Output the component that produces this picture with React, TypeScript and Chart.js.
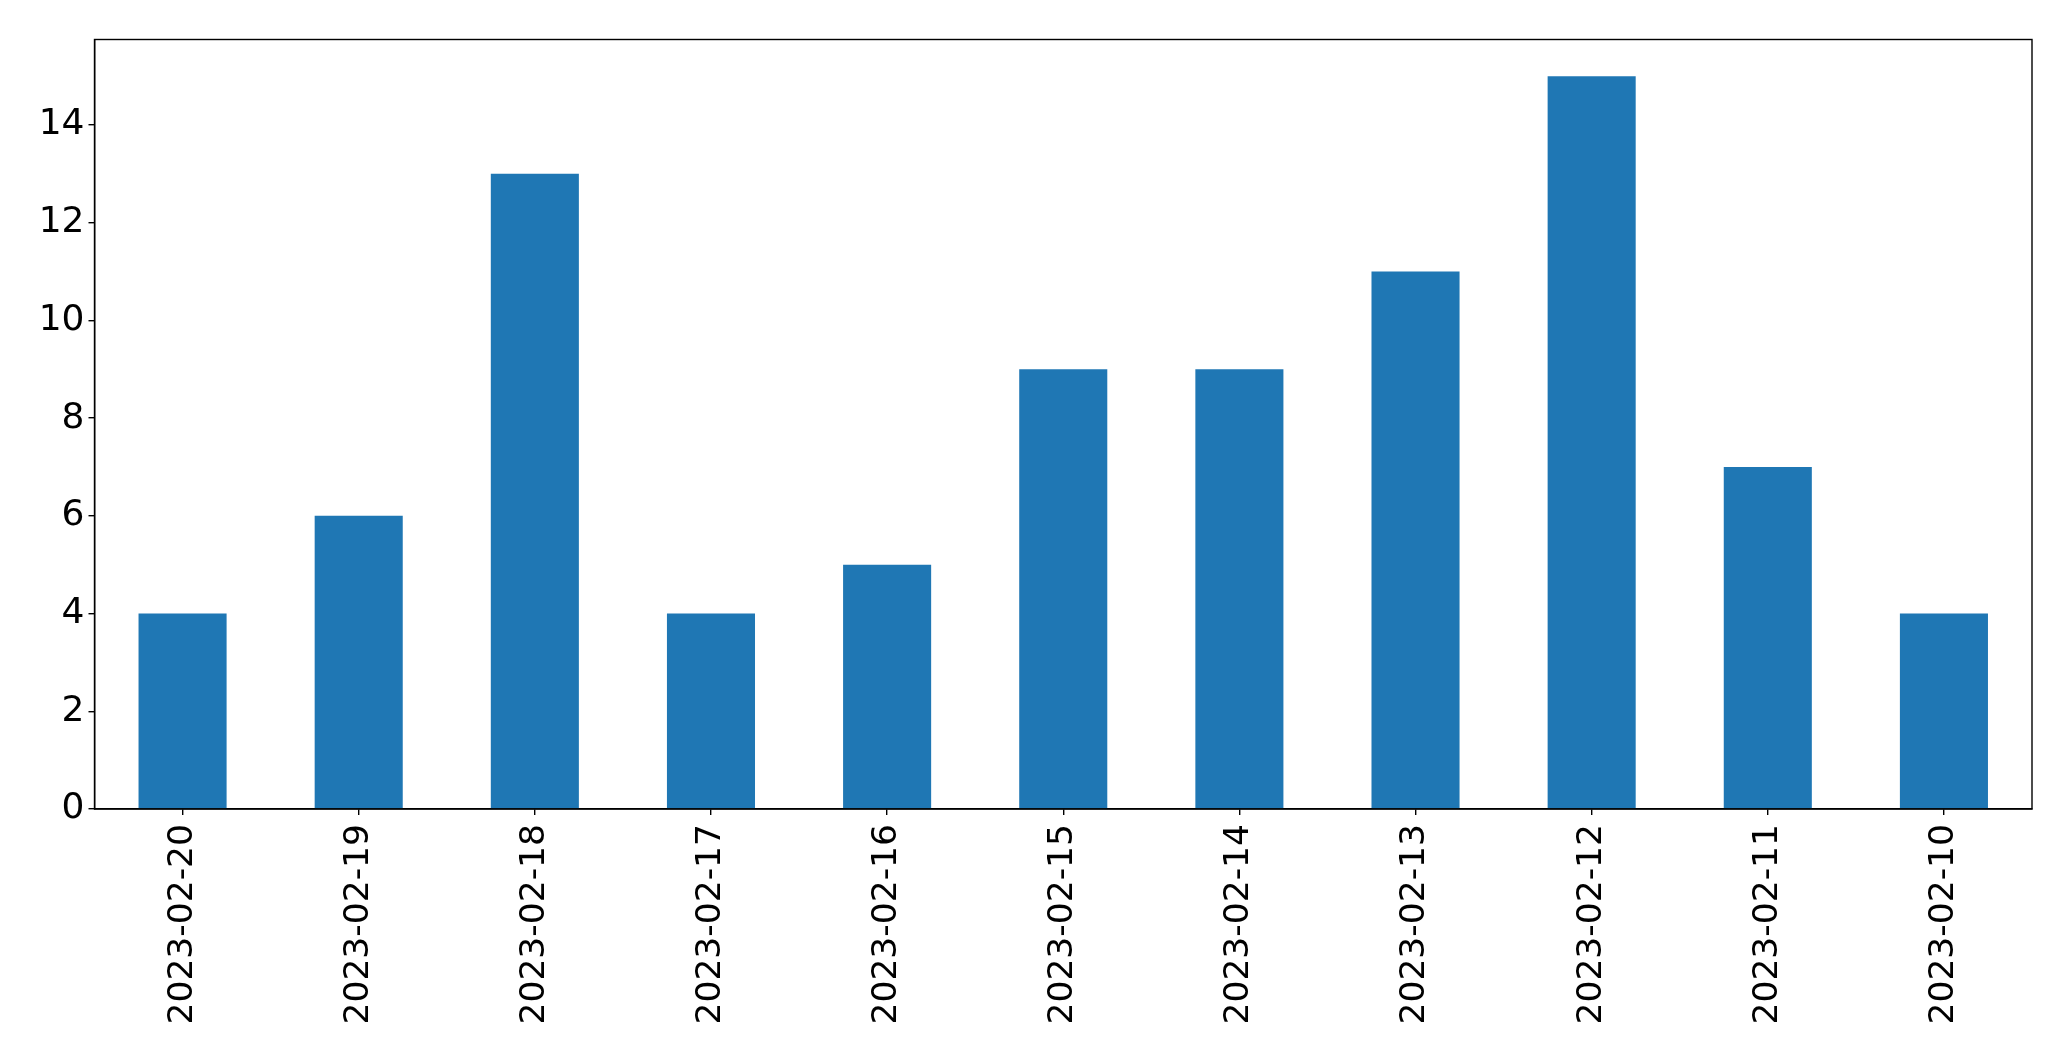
import React, { useEffect, useRef } from "react";
import { Chart, registerables } from "chart.js";

Chart.register(...registerables);

const categories: string[] = [
  "2023-02-20",
  "2023-02-19",
  "2023-02-18",
  "2023-02-17",
  "2023-02-16",
  "2023-02-15",
  "2023-02-14",
  "2023-02-13",
  "2023-02-12",
  "2023-02-11",
  "2023-02-10",
];
const counts: number[] = [4, 6, 13, 4, 5, 9, 9, 11, 15, 7, 4];
const yMax = 15.75;
const yStep = 2;

const W = 2071;
const H = 1061;

const framePlugin = {
  id: "frame",
  afterDatasetsDraw(chart: any) {
    const { ctx, chartArea } = chart;
    ctx.save();
    ctx.strokeStyle = "#000";
    ctx.lineWidth = 1.4;
    ctx.strokeRect(chartArea.left, chartArea.top, chartArea.right - chartArea.left, chartArea.bottom - chartArea.top);
    ctx.restore();
  },
};

export default function App() {
  const ref = useRef<HTMLCanvasElement | null>(null);
  useEffect(() => {
    if (!ref.current) return;
    const xFont = { family: "DejaVu Sans", size: 34.5 };
    const yFont = { family: "DejaVu Sans", size: 36 };
    const chart = new Chart(ref.current, {
      type: "bar",
      data: {
        labels: categories,
        datasets: [
          {
            data: counts,
            backgroundColor: "#1f77b4",
            borderWidth: 0,
            barPercentage: 0.5,
            categoryPercentage: 1,
          },
        ],
      },
      options: {
        responsive: false,
        animation: false,
        devicePixelRatio: 1,
        layout: { padding: { left: 0, top: 39.5, right: 39, bottom: 0 } },
        plugins: { legend: { display: false }, tooltip: { enabled: false } },
        scales: {
          x: {
            offset: true,
            grid: { display: true, offset: false, drawOnChartArea: false, drawTicks: true, tickLength: 6, color: "#000", lineWidth: 1.4 },
            border: { display: true, color: "#000", width: 1.4 },
            ticks: { color: "#000", font: xFont, minRotation: 90, maxRotation: 90, padding: 9, autoSkip: false },
            afterFit: (scale: any) => {
              scale.height = H - 809;
            },
          },
          y: {
            min: 0,
            max: yMax,
            grid: { display: true, drawOnChartArea: false, drawTicks: true, tickLength: 6, color: "#000", lineWidth: 1.4 },
            border: { display: true, color: "#000", width: 1.4 },
            ticks: { color: "#000", font: yFont, stepSize: yStep, includeBounds: false, padding: 4 },
            afterFit: (scale: any) => {
              scale.width = 94.5;
            },
          },
        },
      },
      plugins: [framePlugin],
    });
    return () => chart.destroy();
  }, []);
  return (
    <div style={{ position: "absolute", left: 0, top: 0, width: W, height: H, background: "#fff" }}>
      <canvas ref={ref} width={W} height={H} style={{ display: "block", width: W, height: H }} />
    </div>
  );
}
